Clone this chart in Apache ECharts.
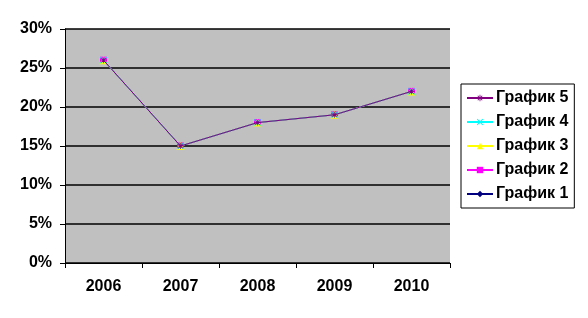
<!DOCTYPE html>
<html><head><meta charset="utf-8">
<script src="https://cdn.jsdelivr.net/npm/echarts@6/dist/echarts.min.js"></script>
<style>html,body{margin:0;padding:0;background:#fff}#c{width:588px;height:318px}</style>
</head><body><div id="c"></div>
<script>
const categories = ['2006','2007','2008','2009','2010'];
const seriesNames = ['График 1','График 2','График 3','График 4','График 5'];
const values1 = [26, 15, 18, 19, 22];
const values2 = [26, 15, 18, 19, 22];
const values3 = [26, 15, 18, 19, 22];
const values4 = [26, 15, 18, 19, 22];
const values5 = [26, 15, 18, 19, 22];
const yTicks = [0, 5, 10, 15, 20, 25, 30];

const colors = ['#000080', '#FF00FF', '#FFFF00', '#00FFFF', '#800080'];
const star = 'path://M4.4,0h1.2v10h-1.2z M0,4.4h10v1.2h-10z M1,2l1-1l7,7l-1,1z M8,1l1,1l-7,7l-1-1z';
const xmark = 'path://M1,2l1-1l7,7l-1,1z M8,1l1,1l-7,7l-1-1z';
const symbols = ['diamond', 'rect', 'triangle', xmark, star];
const sizes = [7, 7, 8, 7, 6];
const allValues = [values1, values2, values3, values4, values5];

const chart = echarts.init(document.getElementById('c'));
const F = 'Arial, "Liberation Sans", sans-serif';
chart.setOption({
  animation: false,
  grid: { left: 65, right: 138, top: 29, bottom: 55, show: true, backgroundColor: '#C0C0C0', borderColor: '#808080', borderWidth: 0 },
  legend: {
    orient: 'vertical', left: 461, top: 84,
    data: seriesNames.slice().reverse(),
    backgroundColor: '#fff', borderColor: '#000', borderWidth: 1, borderRadius: 0,
    padding: [6, 6, 6, 5], itemGap: 8, itemWidth: 26, itemHeight: 8,
    textStyle: { fontFamily: F, fontWeight: 'bold', fontSize: 16, color: '#000', padding: [0,0,0,-2] }
  },
  xAxis: {
    type: 'category', data: categories, boundaryGap: true,
    axisLine: { lineStyle: { color: '#000', width: 1 } },
    axisTick: { show: true, length: 5, lineStyle: { color: '#000' } },
    axisLabel: { fontFamily: F, fontWeight: 'bold', fontSize: 16, color: '#000', margin: 16 }
  },
  yAxis: {
    type: 'value', min: yTicks[0], max: yTicks[yTicks.length-1], interval: 5,
    axisLine: { show: true, lineStyle: { color: '#000', width: 1 } },
    axisTick: { show: true, length: 5, lineStyle: { color: '#000' } },
    splitLine: { show: true, lineStyle: { color: '#000', width: 1.5 } },
    axisLabel: { fontFamily: F, fontWeight: 'bold', fontSize: 16, color: '#000', margin: 13, formatter: v => v + '%' }
  },
  series: seriesNames.map((n, i) => ({
    name: n, type: 'line', data: allValues[i], z: 2 + i,
    symbol: symbols[i], symbolSize: sizes[i], showSymbol: true,
    lineStyle: { color: colors[i], width: 1 },
    itemStyle: { color: colors[i] }
  }))
});
</script></body></html>
